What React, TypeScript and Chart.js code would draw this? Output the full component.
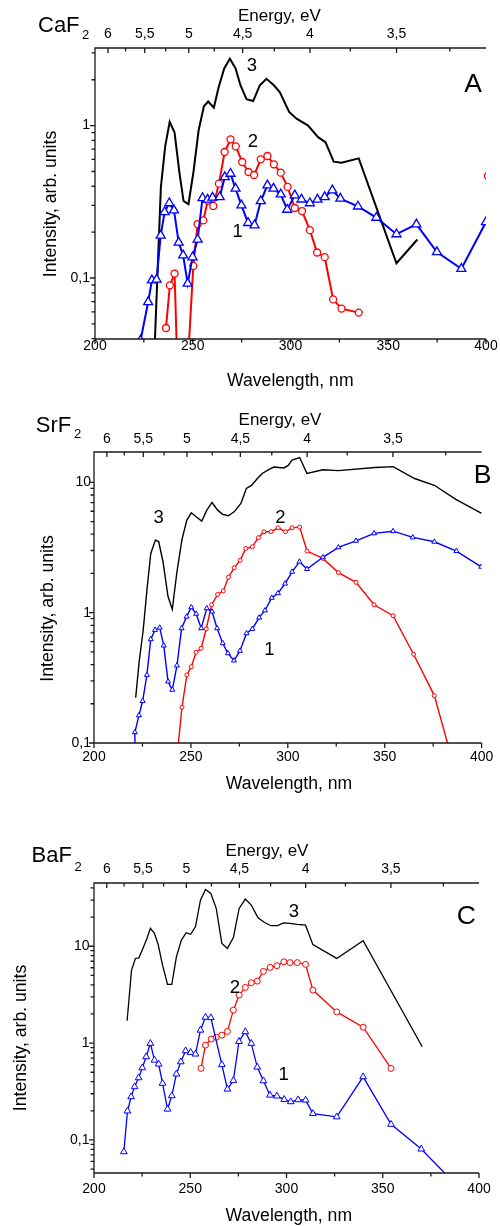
import React, { useEffect, useRef } from "react";
import { Chart, registerables } from "chart.js";

Chart.register(...registerables);

const FONT = '"Liberation Sans", Arial, Helvetica, sans-serif';
const HC = 1239.84; // eV*nm

// ---------- Panel A: CaF2 ----------
const caWl1 = [223.3, 227.2, 229.1, 231.5, 233.6, 235.6, 238.0, 240.4, 242.8, 245.1, 247.4, 249.9, 252.5, 255.0, 257.6, 260.1, 263.8, 266.4, 269.3, 271.9, 274.9, 278.3, 281.6, 284.8, 288.2, 291.3, 295.0, 298.3, 302.2, 305.6, 309.9, 313.8, 317.5, 321.4, 325.5, 334.5, 343.9, 354.2, 364.4, 374.9, 387.4, 400.0];
const caI1 = [0.039, 0.0696, 0.0966, 0.0977, 0.19, 0.271, 0.31, 0.278, 0.171, 0.141, 0.0919, 0.137, 0.179, 0.335, 0.327, 0.337, 0.34, 0.46, 0.484, 0.386, 0.30, 0.23, 0.222, 0.32, 0.406, 0.386, 0.354, 0.281, 0.349, 0.328, 0.31, 0.327, 0.34, 0.376, 0.332, 0.295, 0.249, 0.194, 0.225, 0.148, 0.115, 0.233];
const caWl2 = [236.3, 238.3, 240.7, 243.1, 245.5, 250.3, 252.5, 255.4, 257.7, 260.5, 263.4, 266.3, 269.3, 272.0, 275.3, 278.5, 281.4, 284.8, 288.2, 291.5, 295.0, 298.5, 302.2, 305.9, 309.9, 313.6, 317.5, 321.8, 326.1, 334.9, 368, 401];
const caI2 = [0.047, 0.0895, 0.107, 0.01, 0.01, 0.12, 0.226, 0.239, 0.322, 0.297, 0.416, 0.671, 0.813, 0.731, 0.577, 0.496, 0.474, 0.601, 0.632, 0.557, 0.491, 0.396, 0.288, 0.275, 0.206, 0.147, 0.137, 0.0724, 0.063, 0.0593, null, 0.467];
const caWl3 = [230.5, 233.7, 235.9, 238.2, 240.7, 243.2, 245.3, 247.8, 250.4, 253.0, 255.7, 257.9, 260.8, 263.2, 266.1, 269.0, 271.9, 274.4, 277.5, 280.9, 284.3, 287.7, 291.5, 294.5, 299.3, 303.1, 309.0, 314.1, 317.9, 322.1, 326.1, 334.9, 354.2, 364.9];
const caI3 = [0.035, 0.395, 0.73, 1.06, 0.9, 0.49, 0.32, 0.305, 0.50, 0.93, 1.34, 1.44, 1.31, 1.78, 2.37, 2.75, 2.37, 1.84, 1.49, 1.45, 1.84, 2.03, 1.84, 1.66, 1.23, 1.11, 1.0, 0.84, 0.78, 0.58, 0.57, 0.61, 0.125, 0.179];

// ---------- Panel B: SrF2 ----------
const srWl1 = [220.7, 221.1, 223.2, 225.1, 227.3, 229.3, 231.5, 233.9, 236.0, 238.2, 240.4, 242.8, 245.2, 247.8, 250.2, 252.7, 255.3, 258.2, 260.9, 263.5, 266.4, 269.1, 272.2, 275.3, 278.7, 281.7, 285.2, 288.2, 291.7, 294.9, 298.6, 302.2, 306.0, 309.9, 318.1, 326.1, 335.2, 344.5, 354.3, 364.5, 375.6, 387.0, 399.8];
const srI1 = [0.08, 0.121, 0.163, 0.21, 0.333, 0.625, 0.737, 0.767, 0.559, 0.296, 0.256, 0.393, 0.759, 0.932, 1.1, 0.98, 0.759, 1.08, 1.02, 0.759, 0.583, 0.488, 0.429, 0.509, 0.695, 0.75, 0.916, 1.04, 1.3, 1.41, 1.67, 2.06, 2.46, 2.16, 2.66, 3.17, 3.56, 4.06, 4.22, 3.78, 3.5, 2.97, 2.25];
const srWl2 = [241.5, 245.4, 247.9, 250.2, 252.7, 255.3, 257.9, 260.7, 263.8, 266.7, 269.4, 272.3, 275.4, 278.3, 281.7, 284.8, 287.7, 291.4, 295.0, 298.8, 302.2, 306.1, 309.9, 318.1, 326.1, 335.2, 344.5, 354.3, 364.9, 375.6, 388];
const srI2 = [0.05, 0.188, 0.333, 0.385, 0.497, 0.533, 0.75, 1.15, 1.38, 1.47, 1.87, 2.21, 2.52, 3.11, 3.2, 3.76, 4.18, 4.18, 4.48, 4.18, 4.48, 4.54, 2.97, 2.61, 2.03, 1.71, 1.15, 0.948, 0.48, 0.231, 0.05];
const srWl3 = [221.5, 223.3, 225.4, 227.4, 229.3, 231.7, 233.4, 235.6, 238.2, 240.4, 242.8, 245.4, 247.9, 250.2, 252.7, 255.6, 258.2, 260.9, 263.8, 266.4, 269.3, 272.3, 275.8, 278.6, 281.4, 284.3, 286.8, 290.3, 292.8, 295.4, 298.0, 300.2, 302.2, 306.1, 309.9, 318.1, 326.1, 344.9, 354.3, 365.4, 375.6, 386.7, 400];
const srI3 = [0.223, 0.42, 0.74, 1.54, 2.85, 3.61, 3.5, 2.46, 1.33, 1.06, 2.06, 3.65, 5.13, 5.84, 5.44, 5.04, 6.12, 7.01, 6.12, 5.68, 5.54, 5.94, 6.89, 8.98, 9.52, 10.7, 11.7, 12.6, 13.1, 13.0, 12.9, 13.5, 14.8, 15.5, 11.7, 12.5, 12.3, 13.0, 13.2, 10.7, 9.5, 7.4, 5.78];

// ---------- Panel C: BaF2 ----------
const baWl1 = [215.5, 217.4, 219.3, 221.1, 223.2, 225.1, 227.1, 229.3, 231.4, 233.6, 235.6, 238.2, 240.4, 242.8, 245.1, 247.6, 250.2, 252.7, 255.3, 257.9, 260.7, 266.4, 269.3, 272.4, 275.3, 278.6, 281.7, 284.8, 288.0, 291.4, 295.0, 298.8, 302.2, 306.0, 309.9, 313.7, 326.1, 339.8, 354.3, 370.0, 386];
const baI1 = [0.0755, 0.199, 0.279, 0.354, 0.438, 0.556, 0.722, 0.993, 0.667, 0.607, 0.384, 0.208, 0.286, 0.479, 0.641, 0.833, 0.801, 0.77, 1.36, 1.85, 1.83, 0.6, 0.335, 0.41, 1.04, 1.31, 0.993, 0.565, 0.408, 0.29, 0.284, 0.262, 0.248, 0.26, 0.258, 0.187, 0.173, 0.449, 0.145, 0.0805, 0.038];
const baWl2 = [255.6, 257.9, 260.9, 263.5, 266.4, 269.3, 272.4, 275.4, 278.6, 281.7, 284.8, 288.0, 291.5, 295.0, 298.6, 301.8, 305.6, 309.9, 313.7, 326.1, 339.8, 354.3];
const baI2 = [0.548, 0.954, 1.1, 1.15, 1.21, 1.32, 2.19, 3.13, 3.76, 4.2, 4.37, 5.5, 6.05, 6.3, 6.9, 6.78, 6.78, 6.5, 3.53, 2.1, 1.46, 0.548];
const baWl3 = [217.2, 219.5, 221.5, 223.3, 225.4, 227.4, 229.3, 231.4, 233.4, 235.6, 238.2, 240.4, 242.8, 245.4, 247.9, 250.2, 252.7, 255.3, 257.9, 260.7, 263.5, 266.4, 269.3, 272.4, 275.4, 278.6, 281.7, 285.2, 288.6, 292.0, 295.4, 298.5, 301.7, 305.6, 309.9, 313.7, 326.1, 339.8, 370.5];
const baI3 = [1.7, 5.67, 7.48, 7.6, 9.5, 11.9, 15.3, 13.6, 10.3, 6.38, 4.04, 4.04, 7.78, 11.6, 13.8, 13.3, 15.9, 29.9, 38.6, 35.1, 24.6, 10.7, 9.5, 12.3, 24.6, 30.7, 26.6, 19.7, 17.6, 16.3, 16.3, 17.4, 17.2, 16.8, 16.5, 10.4, 7.49, 11.4, 0.916];

// ---------- Ticks ----------
const wlMajor = [200, 250, 300, 350, 400];
const wlMinor = [225, 275, 325, 375];
const energyMajor = [6, 5.5, 5, 4.5, 4, 3.5];
const energyMinor = [5.75, 5.25, 4.75, 4.25, 3.75, 3.25];
const caYTicks = [0.1, 1];
const srYTicks = [0.1, 1, 10];
const baYTicks = [0.1, 1, 10];

const BLUE = "#0000ff";
const RED = "#ff0000";
const BLACK = "#000000";

function fmtComma(v: number) {
  return String(v).replace(".", ",");
}

type Txt = { t: string; x: number; y: number; size: number; align?: CanvasTextAlign; rot?: boolean };
type Series = { wl: number[]; I: (number | null)[]; color: string; marker: "triangle" | "circle" | null };
type PanelCfg = {
  top: number;
  h: number;
  area: { l: number; r: number; t: number; b: number };
  yMin: number;
  yMax: number;
  yTicks: number[];
  xPad: number;
  x2Pad: number;
  yPad: number;
  lw: number;
  triR: number;
  circR: number;
  ptW: number;
  series: Series[];
  texts: Txt[];
};

const panels: PanelCfg[] = [
  {
    top: 0, h: 400,
    area: { l: 95, r: 486, t: 48, b: 339 },
    yMin: 0.0398, yMax: 3.23, yTicks: caYTicks,
    xPad: 0, x2Pad: 7.2, yPad: 5,
    lw: 2, triR: 5.2, circR: 3.5, ptW: 1.3,
    series: [
      { wl: caWl1, I: caI1, color: BLUE, marker: "triangle" },
      { wl: caWl2, I: caI2, color: RED, marker: "circle" },
      { wl: caWl3, I: caI3, color: BLACK, marker: null },
    ],
    texts: [
      { t: "CaF", x: 38, y: 31.7, size: 22, align: "left" },
      { t: "2", x: 82, y: 39, size: 13, align: "left" },
      { t: "Energy, eV", x: 279.3, y: 20.7, size: 17 },
      { t: "Wavelength, nm", x: 290.3, y: 385.7, size: 17.6 },
      { t: "Intensity, arb. units", x: 56, y: 204, size: 17.6, rot: true },
      { t: "A", x: 473, y: 91.7, size: 26.5 },
      { t: "3", x: 252, y: 70.7, size: 18.5 },
      { t: "2", x: 252.8, y: 146.7, size: 18.5 },
      { t: "1", x: 237.6, y: 237.3, size: 18.5 },
    ],
  },
  {
    top: 400, h: 400,
    area: { l: 94, r: 484, t: 52, b: 343 },
    yMin: 0.1, yMax: 17.1, yTicks: srYTicks,
    xPad: 6.7, x2Pad: 5.7, yPad: 3,
    lw: 1.4, triR: 2.9, circR: 2, ptW: 1,
    series: [
      { wl: srWl1, I: srI1, color: BLUE, marker: "triangle" },
      { wl: srWl2, I: srI2, color: RED, marker: "circle" },
      { wl: srWl3, I: srI3, color: BLACK, marker: null },
    ],
    texts: [
      { t: "SrF", x: 35.8, y: 31.7, size: 22, align: "left" },
      { t: "2", x: 74, y: 38.3, size: 13, align: "left" },
      { t: "Energy, eV", x: 280, y: 25, size: 17 },
      { t: "Wavelength, nm", x: 289, y: 389, size: 17.6 },
      { t: "Intensity, arb. units", x: 53, y: 208.5, size: 17.6, rot: true },
      { t: "B", x: 482.5, y: 83.3, size: 26.5 },
      { t: "3", x: 158.7, y: 122.7, size: 18.5 },
      { t: "2", x: 280.5, y: 122.7, size: 18.5 },
      { t: "1", x: 269.5, y: 255, size: 18.5 },
    ],
  },
  {
    top: 800, h: 426,
    area: { l: 94, r: 484, t: 83, b: 373 },
    yMin: 0.0456, yMax: 45, yTicks: baYTicks,
    xPad: 9.3, x2Pad: 6.7, yPad: 4.5,
    lw: 1.3, triR: 3.9, circR: 3, ptW: 1,
    series: [
      { wl: baWl1, I: baI1, color: BLUE, marker: "triangle" },
      { wl: baWl2, I: baI2, color: RED, marker: "circle" },
      { wl: baWl3, I: baI3, color: BLACK, marker: null },
    ],
    texts: [
      { t: "BaF", x: 31.6, y: 61.7, size: 22, align: "left" },
      { t: "2", x: 74.5, y: 70.7, size: 13, align: "left" },
      { t: "Energy, eV", x: 267, y: 56, size: 17 },
      { t: "Wavelength, nm", x: 288.8, y: 420.7, size: 17.6 },
      { t: "Intensity, arb. units", x: 26, y: 238, size: 17.6, rot: true },
      { t: "C", x: 466.3, y: 124, size: 26.5 },
      { t: "3", x: 294, y: 116.7, size: 18.5 },
      { t: "2", x: 235, y: 193.3, size: 18.5 },
      { t: "1", x: 283.7, y: 280, size: 18.5 },
    ],
  },
];

function PanelChart({ cfg }: { cfg: PanelCfg }) {
  const ref = useRef<HTMLCanvasElement>(null);

  useEffect(() => {
    const canvas = ref.current;
    if (!canvas) return;
    const a = cfg.area;
    const tickFont = { family: FONT, size: 14, lineHeight: 1 };

    const decor = {
      id: "decor",
      afterDraw(chart: any) {
        const ctx: CanvasRenderingContext2D = chart.ctx;
        const ca = chart.chartArea;
        const sx = chart.scales.x;
        const sx2 = chart.scales.x2;
        const sy = chart.scales.y;
        ctx.save();
        ctx.strokeStyle = "#1a1a1a";
        ctx.lineWidth = 1.3;
        ctx.beginPath();
        ctx.moveTo(ca.left - 0.6, ca.top);
        ctx.lineTo(ca.right, ca.top);
        ctx.moveTo(ca.left - 0.6, ca.bottom);
        ctx.lineTo(ca.right, ca.bottom);
        ctx.moveTo(ca.left, ca.top);
        ctx.lineTo(ca.left, ca.bottom);
        wlMajor.forEach((v) => {
          const x = sx.getPixelForValue(v);
          ctx.moveTo(x, ca.bottom);
          ctx.lineTo(x, ca.bottom + 5);
        });
        wlMinor.forEach((v) => {
          const x = sx.getPixelForValue(v);
          ctx.moveTo(x, ca.bottom);
          ctx.lineTo(x, ca.bottom + 3.5);
        });
        energyMajor.forEach((e) => {
          const x = sx2.getPixelForValue(HC / e);
          ctx.moveTo(x, ca.top);
          ctx.lineTo(x, ca.top + 5);
        });
        energyMinor.forEach((e) => {
          const x = sx2.getPixelForValue(HC / e);
          ctx.moveTo(x, ca.top);
          ctx.lineTo(x, ca.top + 3.5);
        });
        cfg.yTicks.forEach((v) => {
          const y = sy.getPixelForValue(v);
          ctx.moveTo(ca.left - 5, y);
          ctx.lineTo(ca.left, y);
        });
        for (let k = -3; k <= 2; k++) {
          for (let m = 2; m <= 9; m++) {
            const v = m * Math.pow(10, k);
            if (v > cfg.yMin && v < cfg.yMax) {
              const y = sy.getPixelForValue(v);
              ctx.moveTo(ca.left - 3.5, y);
              ctx.lineTo(ca.left, y);
            }
          }
        }
        ctx.stroke();

        ctx.fillStyle = "#000";
        ctx.textBaseline = "alphabetic";
        cfg.texts.forEach((tx) => {
          ctx.font = `${tx.size}px ${FONT}`;
          ctx.textAlign = tx.align || "center";
          if (tx.rot) {
            ctx.save();
            ctx.translate(tx.x, tx.y);
            ctx.rotate(-Math.PI / 2);
            ctx.fillText(tx.t, 0, 0);
            ctx.restore();
          } else {
            ctx.fillText(tx.t, tx.x, tx.y);
          }
        });
        ctx.restore();
      },
    };

    const chart = new Chart(canvas, {
      type: "line",
      data: {
        datasets: cfg.series.map((s) => ({
          data: s.wl.map((x, i) => ({ x, y: s.I[i] })),
          borderColor: s.color,
          borderWidth: cfg.lw,
          pointStyle: s.marker || "circle",
          pointRadius: s.marker ? (s.marker === "triangle" ? cfg.triR : cfg.circR) : 0,
          pointHoverRadius: 0,
          pointBackgroundColor: "#ffffff",
          pointBorderColor: s.color,
          pointBorderWidth: cfg.ptW,
          fill: false,
          tension: 0,
          spanGaps: false,
        })) as any,
      },
      options: {
        animation: false,
        responsive: false,
        devicePixelRatio: 1,
        events: [],
        layout: { padding: { left: 0, top: 0, bottom: 0, right: 500 - a.r } },
        plugins: { legend: { display: false }, tooltip: { enabled: false } },
        scales: {
          x: {
            type: "linear",
            position: "bottom",
            min: 200,
            max: 400,
            grid: { display: false, drawTicks: false },
            border: { display: false },
            afterBuildTicks: (s: any) => {
              s.ticks = wlMajor.map((v) => ({ value: v }));
            },
            afterFit: (s: any) => {
              s.height = cfg.h - a.b;
            },
            ticks: {
              autoSkip: false,
              maxRotation: 0,
              minRotation: 0,
              padding: cfg.xPad,
              color: "#000",
              font: tickFont,
              callback: (v: any) => String(v),
            },
          },
          x2: {
            type: "linear",
            position: "top",
            min: 200,
            max: 400,
            grid: { display: false, drawTicks: false },
            border: { display: false },
            afterBuildTicks: (s: any) => {
              s.ticks = energyMajor.map((e) => ({ value: HC / e }));
            },
            afterFit: (s: any) => {
              s.height = a.t;
            },
            ticks: {
              autoSkip: false,
              maxRotation: 0,
              minRotation: 0,
              padding: cfg.x2Pad,
              color: "#000",
              font: tickFont,
              callback: (v: any) => fmtComma(Math.round((HC / Number(v)) * 4) / 4),
            },
          },
          y: {
            type: "logarithmic",
            position: "left",
            min: cfg.yMin,
            max: cfg.yMax,
            grid: { display: false, drawTicks: false },
            border: { display: false },
            afterBuildTicks: (s: any) => {
              s.ticks = cfg.yTicks.map((v) => ({ value: v }));
            },
            afterFit: (s: any) => {
              s.width = a.l;
            },
            ticks: {
              autoSkip: false,
              padding: cfg.yPad,
              color: "#000",
              font: tickFont,
              callback: (v: any) => fmtComma(Number(v)),
            },
          },
        },
      } as any,
      plugins: [decor],
    });

    return () => chart.destroy();
  }, [cfg]);

  return (
    <canvas
      ref={ref}
      width={500}
      height={cfg.h}
      style={{ position: "absolute", left: 0, top: cfg.top, width: 500, height: cfg.h, display: "block" }}
    />
  );
}

export default function App() {
  return (
    <div style={{ position: "absolute", left: 0, top: 0, width: 500, height: 1226, background: "#ffffff" }}>
      {panels.map((p, i) => (
        <PanelChart key={i} cfg={p} />
      ))}
    </div>
  );
}
